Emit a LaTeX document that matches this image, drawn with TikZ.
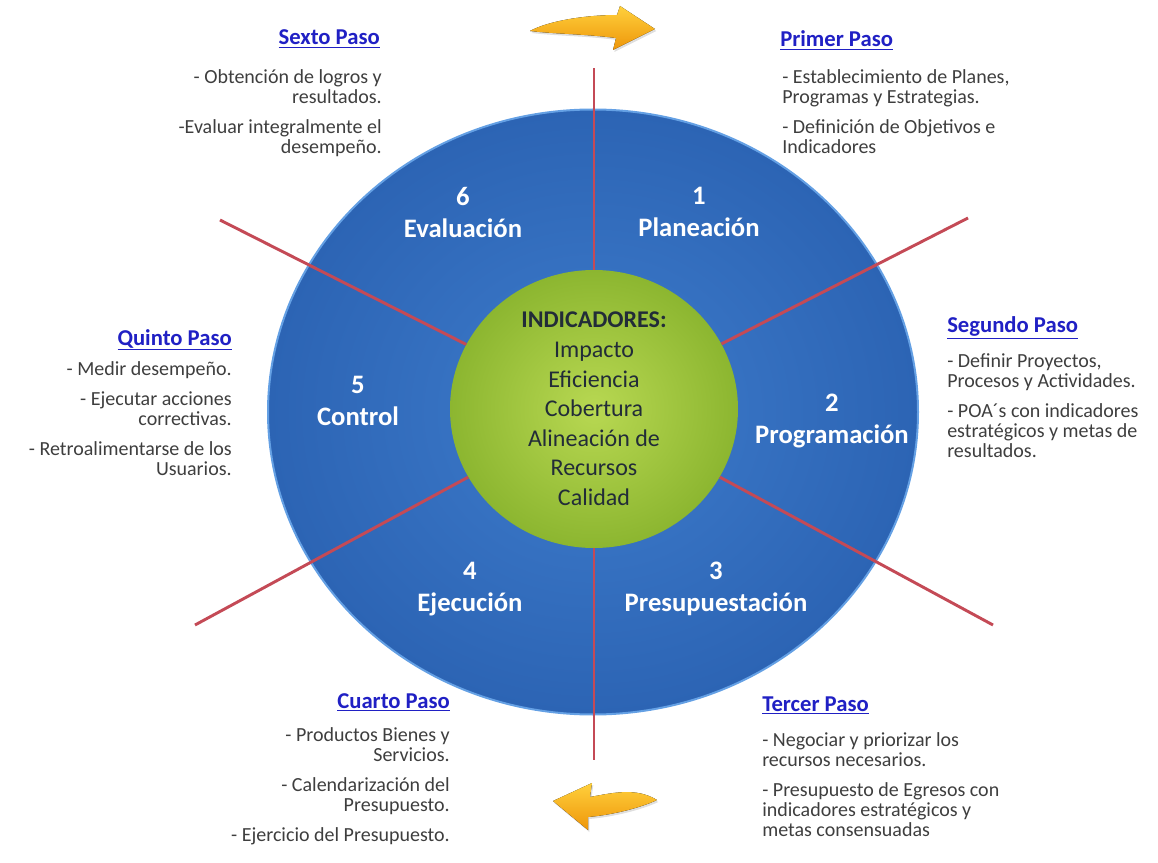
\documentclass[tikz,border=0pt]{standalone}
\usepackage{fontspec}
\setmainfont{Carlito}
\usetikzlibrary{shapes.geometric,shadows}

\definecolor{wheelblue}{RGB}{62,124,204}
\definecolor{wheeldark}{RGB}{44,100,180}
\definecolor{wheelrim}{RGB}{100,160,228}
\definecolor{indgreen}{RGB}{184,216,82}
\definecolor{inddark}{RGB}{140,182,48}
\definecolor{spokered}{RGB}{196,74,86}
\definecolor{pasoblue}{RGB}{32,32,196}
\definecolor{pasogray}{RGB}{62,62,62}
\definecolor{indtext}{RGB}{34,44,56}
\definecolor{arrowtop}{RGB}{255,208,60}
\definecolor{arrowbot}{RGB}{238,150,10}

\begin{document}
\begin{tikzpicture}[x=0.75pt,y=-0.75pt,
    spoke/.style={draw=spokered,line width=2.2pt},
    stepname/.style={text=white,font=\bfseries\fontsize{20}{24}\selectfont,align=center,inner sep=0pt},
    pasohead/.style={text=pasoblue,font=\bfseries\fontsize{17}{20}\selectfont,inner sep=0pt},
    pasotext/.style={text=pasogray,font=\fontsize{15}{15}\selectfont,inner sep=0pt},
    cyclearrow/.style={top color=arrowtop,bottom color=arrowbot,drop shadow={opacity=0.25,shadow xshift=1pt,shadow yshift=-1.5pt}}]

\useasboundingbox (0,0) rectangle (1158,863);

% wheel and centre
\node[ellipse,minimum width=487.5pt,minimum height=453.75pt,inner color=wheelblue,outer color=wheeldark,draw=wheelrim,line width=1.5pt] (wheel) at (593,412) {};
\node[ellipse,minimum width=216pt,minimum height=208.5pt,inner color=indgreen,outer color=inddark] (ind) at (594,409) {};
\node[align=center,text=indtext,font=\fontsize{18}{22.2}\selectfont] (indlabel) at (ind) {\textbf{INDICADORES:}\\Impacto\\Eficiencia\\Cobertura\\Alineación de\\Recursos\\Calidad};

% spokes
\coordinate (ctop) at (594,68);
\coordinate (cbot) at (594,760);
\coordinate (s1) at (968,218);
\coordinate (s2) at (993,625);
\coordinate (s3) at (195,625);
\coordinate (s4) at (220,220);
\draw[spoke] (ind) -- (ctop);
\draw[spoke] (ind) -- (cbot);
\draw[spoke] (ind) -- (s1);
\draw[spoke] (ind) -- (s2);
\draw[spoke] (ind) -- (s3);
\draw[spoke] (ind) -- (s4);

% steps
\node[stepname] (plan) at (699,212) {1\\Planeación};
\node[stepname] (prog) at (832,421) {2\\Programación};
\node[stepname] (presu) at (716,589) {3\\Presupuestación};
\node[stepname] (ejec) at (470,589) {4\\Ejecución};
\node[stepname] (ctrl) at (358,401) {5\\Control};
\node[stepname] (eval) at (463,212) {6\\Evaluación};

% pasos
\node[pasohead,anchor=base east] (sextoh) at (380,45) {\underline{Sexto Paso}};
\node[pasotext,anchor=north east,align=right] (sextot) at (382,69) {- Obtención de logros y\\resultados.\\[7.5pt]-Evaluar integralmente el\\desempeño.};

\node[pasohead,anchor=base west] (primerh) at (780,47) {\underline{Primer Paso}};
\node[pasotext,anchor=north west,align=left] (primert) at (782,69) {- Establecimiento de Planes,\\Programas y Estrategias.\\[7.5pt]- Definición de Objetivos e\\Indicadores};

\node[pasohead,anchor=base west] (segundoh) at (947,333) {\underline{Segundo Paso}};
\node[pasotext,anchor=north west,align=left] (segundot) at (947,353) {- Definir Proyectos,\\Procesos y Actividades.\\[7.5pt]- POA´s con indicadores\\estratégicos y metas de\\resultados.};

\node[pasohead,anchor=base west] (tercerh) at (762,711) {\underline{Tercer Paso}};
\node[pasotext,anchor=north west,align=left] (tercert) at (762,732) {- Negociar y priorizar los\\recursos necesarios.\\[7.5pt]- Presupuesto de Egresos con\\indicadores estratégicos y\\metas consensuadas};

\node[pasohead,anchor=base east] (cuartoh) at (450,708) {\underline{Cuarto Paso}};
\node[pasotext,anchor=north east,align=right] (cuartot) at (450,727) {- Productos Bienes y\\Servicios.\\[7.5pt]- Calendarización del\\Presupuesto.\\[7.5pt]- Ejercicio del Presupuesto.};

\node[pasohead,anchor=base east] (quintoh) at (232,345) {\underline{Quinto Paso}};
\node[pasotext,anchor=north east,align=right] (quintot) at (232,361) {- Medir desempeño.\\[7.5pt]- Ejecutar acciones\\correctivas.\\[7.5pt]- Retroalimentarse de los\\Usuarios.};

% cycle arrows
\fill[cyclearrow] (530,31) .. controls (548,21) and (585,15) .. (617,15) -- (620,6) -- (655,29) -- (613,50) -- (616,38) .. controls (585,34) and (555,34) .. (530,31) -- cycle;
\fill[cyclearrow] (553,801) -- (592,783) -- (590,797) .. controls (612,793) and (636,787) .. (657,800) .. controls (640,808) and (612,815) .. (588,817) -- (588,830) -- cycle;

\end{tikzpicture}
\end{document}
